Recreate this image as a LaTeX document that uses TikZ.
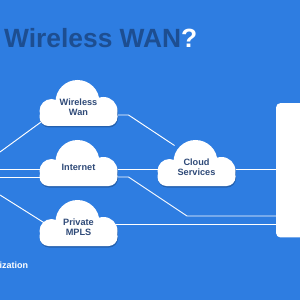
\documentclass[tikz,border=0pt]{standalone}
\usepackage{fontspec}
\setmainfont{Liberation Sans}
\usetikzlibrary{calc,positioning}
\definecolor{wanblue}{HTML}{2E7DE1}
\definecolor{titleblue}{HTML}{1D4E91}
\definecolor{cloudtext}{HTML}{2F4A78}
\pgfdeclarelayer{bg}
\pgfdeclarelayer{wires}
\pgfsetlayers{bg,wires,main}
\tikzset{
  % Cloud outline: centre of the cloud at the pic origin (units are px, y down)
  pics/wancloud/.style={code={
    \begin{scope}[shift={(0.5,1.5)}, fill=wanblue!78!black]
      \fill (-1,-1) circle[radius=22];
      \fill (-27,8) circle[radius=12];
      \fill (25,8) circle[radius=14];
      \fill[rounded corners=3mm] (-39,4) rectangle (39,23);
    \end{scope}
    \fill[white] (-1,-1) circle[radius=22];
    \fill[white] (-27,8) circle[radius=12];
    \fill[white] (25,8) circle[radius=14];
    \fill[white, rounded corners=3mm] (-39,4) rectangle (39,23);
  }},
  % Cloud label
  cloudlabel/.style={font=\bfseries\fontsize{8.7}{9.5}\selectfont, text=cloudtext,
                     align=center, inner sep=0pt},
  % Hub panel on the right
  hubbox/.style={fill=white, rounded corners=1.3mm, minimum width=1.5cm,
                 minimum height=4.47cm, inner sep=0pt},
  % Links
  wire/.style={draw=white, line width=0.9pt},
  titletxt/.style={font=\bfseries\fontsize{25}{30}\selectfont, text=titleblue, inner sep=0pt},
  foottxt/.style={font=\bfseries\fontsize{8.5}{10}\selectfont, text=white, inner sep=0pt}
}

\begin{document}
\begin{tikzpicture}[x=0.3333mm, y=-0.3333mm]
\useasboundingbox (0,0) rectangle (300,300);

% ============== BACKGROUND ==============
\begin{pgfonlayer}{bg}
  \fill[wanblue] (0,0) rectangle (300,300);
\end{pgfonlayer}

\node[titletxt, anchor=base west] (title) at (4,48) {Wireless WAN\textcolor{white}{?}};
\node[foottxt, anchor=base west] (foot) at (-0.5,268.5) {ization};

% ============== CLOUDS ==============
\pic at (78.5,103) {wancloud};
\pic at (78.5,163) {wancloud};
\pic at (78.5,223) {wancloud};
\pic at (196.5,163) {wancloud};

\node[cloudlabel] (ww) at (78.5,107.5) {Wireless\\Wan};
\node[cloudlabel] (inet) at (78.5,167.5) {Internet};
\node[cloudlabel] (mpls) at (78.5,227) {Private\\MPLS};
\node[cloudlabel] (cs) at (196.5,167.5) {Cloud\\Services};

\node[hubbox, anchor=north west] (hub) at (276,103) {};

% ============== LINKS ==============
\coordinate (in1) at (0,152);
\coordinate (in2) at (0,169);
\coordinate (in3) at (0,177);
\coordinate (in4) at (0,195);

\begin{pgfonlayer}{wires}
  \draw[wire] (in1) -- ($(ww)+(-34,12)$);
  \draw[wire] (in2) -- (in2 -| inet);
  \draw[wire] (in3) -- (in3 -| inet);
  \draw[wire] (in4) -- ($(mpls)+(-34,-4)$);

  \draw[wire] ($(ww)+(30,7.5)$) -- ++(20,0) -- ($(cs)+(-22,-22)$);
  \draw[wire] ($(inet)+(0,1.5)$) -- ($(cs)+(0,1.5)$);
  \draw[wire] ($(cs)+(0,1.5)$) coordinate (c7) -- (c7 -| hub.west);
  \draw[wire] ($(inet)+(30,9.5)$) -- ++(20,0) -- (187,216) coordinate (c8) -- (c8 -| hub.west);
  \draw[wire] ($(mpls)+(0,-2.5)$) coordinate (c9) -- (c9 -| hub.west);
\end{pgfonlayer}

\end{tikzpicture}
\end{document}
